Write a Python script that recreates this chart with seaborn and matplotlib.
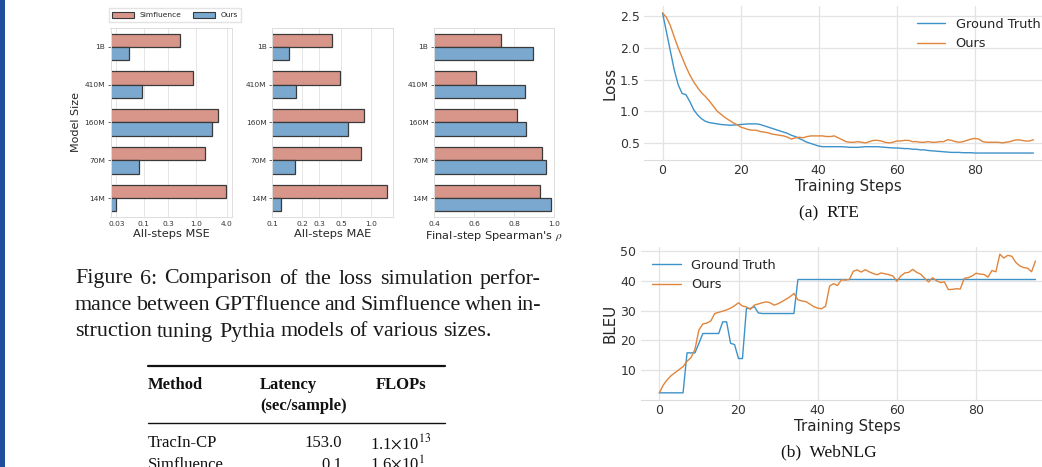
""" Recreation of a paper page crop: GPTfluence vs Simfluence bars + loss/BLEU curves """

import matplotlib
matplotlib.use("Agg")
import matplotlib.pyplot as plt
import pandas as pd
import seaborn as sns
from matplotlib.patches import Patch, Rectangle
from matplotlib.ticker import NullLocator


# ---- data ---------------------------------------------------------------

sizes = ["1B", "410M", "160M", "70M", "14M"]
methods = ["Simfluence", "Ours"]

mse_sim = [0.50, 0.88, 2.68, 1.54, 3.75]
mse_ours = [0.053, 0.091, 2.10, 0.083, 0.030]
mae_sim = [0.40, 0.49, 0.84, 0.79, 1.45]
mae_ours = [0.149, 0.174, 0.59, 0.171, 0.122]
rho_sim = [0.737, 0.61, 0.814, 0.942, 0.929]
rho_ours = [0.896, 0.857, 0.86, 0.962, 0.983]

steps = list(range(96))

rte_truth = [
    2.55, 2.25, 1.95, 1.65, 1.42, 1.28, 1.26, 1.15, 1.02, 0.94,
    0.88, 0.84, 0.82, 0.81, 0.80, 0.79, 0.785, 0.78, 0.78, 0.785,
    0.79, 0.795, 0.80, 0.80, 0.80, 0.79, 0.77, 0.75, 0.73, 0.71,
    0.69, 0.67, 0.65, 0.62, 0.60, 0.57, 0.54, 0.51, 0.49, 0.47,
    0.45, 0.44, 0.44, 0.44, 0.44, 0.44, 0.44, 0.435, 0.43, 0.43,
    0.43, 0.435, 0.44, 0.44, 0.44, 0.44, 0.435, 0.43, 0.425, 0.42,
    0.42, 0.415, 0.41, 0.41, 0.40, 0.40, 0.39, 0.39, 0.38, 0.375,
    0.37, 0.365, 0.36, 0.355, 0.35, 0.35, 0.35, 0.345, 0.345, 0.345,
    0.34, 0.34, 0.34, 0.34, 0.34, 0.34, 0.34, 0.34, 0.34, 0.34,
    0.34, 0.34, 0.34, 0.34, 0.34, 0.34,
]
rte_ours = [
    2.55, 2.48, 2.35, 2.17, 2.00, 1.85, 1.70, 1.57, 1.46, 1.37,
    1.29, 1.23, 1.16, 1.08, 1.00, 0.95, 0.90, 0.86, 0.82, 0.79,
    0.75, 0.73, 0.71, 0.70, 0.70, 0.68, 0.67, 0.66, 0.64, 0.63,
    0.62, 0.61, 0.59, 0.56, 0.58, 0.59, 0.58, 0.60, 0.61, 0.61,
    0.61, 0.61, 0.60, 0.60, 0.61, 0.58, 0.55, 0.52, 0.51, 0.51,
    0.52, 0.51, 0.50, 0.52, 0.54, 0.54, 0.53, 0.51, 0.50, 0.51,
    0.53, 0.53, 0.54, 0.54, 0.52, 0.52, 0.51, 0.51, 0.52, 0.51,
    0.51, 0.52, 0.52, 0.55, 0.54, 0.52, 0.51, 0.52, 0.54, 0.56,
    0.57, 0.56, 0.52, 0.51, 0.51, 0.51, 0.51, 0.50, 0.51, 0.52,
    0.54, 0.55, 0.54, 0.53, 0.53, 0.55,
]

nlg_truth = [
    2.4, 2.4, 2.4, 2.4, 2.4, 2.4, 2.4, 15.8, 15.8, 15.8,
    19.0, 22.3, 22.3, 22.3, 22.3, 22.3, 26.2, 26.2, 19.0, 18.6,
    13.9, 13.9, 30.7, 30.7, 31.3, 29.2, 29.0, 29.0, 29.0, 29.0,
    29.0, 29.0, 29.0, 29.0, 29.0, 40.4, 40.4, 40.4, 40.4, 40.4,
] + [40.4] * 56
nlg_ours = [
    2.4, 5.0, 6.8, 8.2, 9.2, 10.2, 11.2, 13.0, 14.2, 17.0,
    23.5, 25.5, 25.8, 26.5, 29.0, 29.4, 29.8, 30.2, 30.8, 31.6,
    32.6, 31.5, 31.2, 30.4, 31.8, 32.2, 32.6, 32.9, 32.6, 31.8,
    32.3, 33.0, 33.8, 34.6, 35.7, 33.6, 33.2, 33.0, 32.2, 31.3,
    30.8, 30.6, 31.5, 38.2, 39.0, 38.4, 40.3, 40.2, 40.4, 43.2,
    43.6, 42.9, 43.7, 43.0, 42.4, 42.0, 42.6, 42.3, 42.0, 41.6,
    39.8, 41.6, 42.6, 42.8, 43.8, 42.8, 42.2, 40.8, 39.6, 41.0,
    40.0, 39.4, 39.6, 37.0, 37.1, 37.3, 37.2, 40.8, 41.0, 41.6,
    42.5, 42.2, 42.1, 41.2, 43.4, 43.0, 48.9, 47.6, 48.5, 48.2,
    46.2, 45.0, 44.4, 44.2, 43.0, 46.6,
]

caption_lines = [
    "Figure 6: Comparison of the loss simulation perfor-",
    "mance between GPTfluence and Simfluence when in-",
    "struction tuning Pythia models of various sizes.",
]


# ---- style --------------------------------------------------------------

W, H = 1042, 467
sim_color = "#d8958a"
ours_color = "#7aa8cf"
truth_line = "#3d92c9"
ours_line = "#e0853c"
serif = ["Liberation Serif", "DejaVu Serif"]

sns.set_style("whitegrid")
plt.rcParams["font.family"] = ["DejaVu Sans"]
plt.rcParams["mathtext.fontset"] = "stix"

fig = plt.figure(figsize=(W / 100, H / 100), dpi=100)
fig.patch.set_facecolor("white")


def box(x0, y0, x1, y1):
    """ pixel box (top-left origin) -> figure fraction rect """
    return [x0 / W, 1 - y1 / H, (x1 - x0) / W, (y1 - y0) / H]


# ---- bar panels ---------------------------------------------------------

panels = [
    ("All-steps MSE", mse_sim, mse_ours, (110.5, 28, 232, 217), True,
     (0.023, 5.0), [0.03, 0.1, 0.3, 1.0, 4.0]),
    ("All-steps MAE", mae_sim, mae_ours, (272.3, 28, 392.7, 217), True,
     (0.1, 1.66), [0.1, 0.2, 0.3, 0.5, 1.0]),
    ("Final-step Spearman's $\\rho$", rho_sim, rho_ours, (434, 28, 554, 217), False,
     (0.4, 1.0), [0.4, 0.6, 0.8, 1.0]),
]

for i, (label, sim, ours, rect, logx, lim, ticks) in enumerate(panels):
    ax = fig.add_axes(box(*rect))
    frame = pd.DataFrame({
        "size": sizes * 2,
        "value": sim + ours,
        "method": [methods[0]] * 5 + [methods[1]] * 5,
    })
    if logx:
        ax.set_xscale("log")
    sns.barplot(data=frame, x="value", y="size", hue="method", orient="h",
                order=sizes, hue_order=methods, saturation=1,
                palette=[sim_color, ours_color], width=0.7,
                edgecolor="#3a3a3a", linewidth=0.9, ax=ax, legend=False)
    ax.set_xlim(*lim)
    ax.set_xticks(ticks)
    ax.set_xticklabels([f"{t:.2f}" if t < 0.1 else f"{t:.1f}" for t in ticks])
    ax.xaxis.set_minor_locator(NullLocator())
    ax.tick_params(axis="both", labelsize=5.4, colors="#333333", pad=2)
    ax.tick_params(axis="x", length=0, pad=3)
    ax.tick_params(axis="y", left=True, length=2, width=0.6, color="#555555")
    ax.set_xlabel(label, fontsize=8.2, labelpad=1)
    ax.set_ylabel("Model Size" if i == 0 else "", fontsize=8, labelpad=2)
    ax.grid(axis="x", color="#e6e6e6", linewidth=0.7)
    for s in ax.spines.values():
        s.set_color("#dddddd")
        s.set_linewidth(0.7)

handles = [Patch(facecolor=sim_color, edgecolor="#3a3a3a", linewidth=0.8),
           Patch(facecolor=ours_color, edgecolor="#3a3a3a", linewidth=0.8)]
fig.legend(handles, methods, loc="center", ncol=2, fontsize=5.4,
           bbox_to_anchor=(175 / W, 1 - 15 / H), frameon=True,
           handlelength=2.9, handleheight=0.9, columnspacing=1.6,
           handletextpad=0.7, borderpad=0.45, edgecolor="#dddddd",
           fancybox=False)


# ---- line panels --------------------------------------------------------

def line_panel(rect, truth, ours, ylabel, ylim, yticks, legend_loc):
    ax = fig.add_axes(box(*rect))
    sns.lineplot(x=steps, y=truth, color=truth_line, linewidth=1.0,
                 label="Ground Truth", ax=ax)
    sns.lineplot(x=steps, y=ours, color=ours_line, linewidth=1.0,
                 label="Ours", ax=ax)
    ax.set_xlim(-4.75, 99.75)
    ax.set_ylim(*ylim)
    ax.set_xticks([0, 20, 40, 60, 80])
    ax.set_yticks(yticks)
    ax.tick_params(labelsize=9, colors="#333333", length=0, pad=3)
    ax.set_xlabel("Training Steps", fontsize=10.8, labelpad=1)
    ax.set_ylabel(ylabel, fontsize=10.8, labelpad=2)
    ax.grid(color="#e3e3e3", linewidth=0.9)
    for side in ["top", "right", "left"]:
        ax.spines[side].set_visible(False)
    ax.spines["bottom"].set_color("#dddddd")
    ax.legend(loc=legend_loc, frameon=False, fontsize=9.3, handlelength=2.2)
    return ax


line_panel((644, 6, 1052, 160), rte_truth, rte_ours, "Loss",
           (0.23, 2.66), [0.5, 1.0, 1.5, 2.0, 2.5], "upper right")
line_panel((640.5, 247, 1054.3, 400), nlg_truth, nlg_ours, "BLEU",
           (0.0, 51.3), [10, 20, 30, 40, 50], "upper left")

fig.text(829 / W, 1 - 213 / H, "(a)  RTE", family=serif, fontsize=12.5,
         ha="center", va="center", color="#111111")
fig.text(829 / W, 1 - 452 / H, "(b)  WebNLG", family=serif, fontsize=12.5,
         ha="center", va="center", color="#111111")


# ---- caption (justified like the paper) ---------------------------------

renderer = fig.canvas.get_renderer()
cap_kw = dict(family=serif, fontsize=15.8, color="#1a1a1a")

probe = fig.text(0, 0, "a a", **cap_kw)
probe_a = fig.text(0, 0, "aa", **cap_kw)
natural_gap = (probe.get_window_extent(renderer).width
               - probe_a.get_window_extent(renderer).width)
probe.remove()
probe_a.remove()


def justified(line, x0, x1, y, last=False):
    words = line.split()
    arts = [fig.text(0, 1 - y / H, w, va="center", **cap_kw) for w in words]
    widths = [a.get_window_extent(renderer).width for a in arts]
    gap = natural_gap if last else (x1 - x0 - sum(widths)) / (len(words) - 1)
    x = x0
    for a, w in zip(arts, widths):
        a.set_x(x / W)
        x += w + gap


for k, (line, y) in enumerate(zip(caption_lines, [279, 306, 332])):
    justified(line, 75, 541, y, last=(k == 2))


# ---- table --------------------------------------------------------------

tab_kw = dict(family=serif, fontsize=12, color="#111111", va="center")
fig.add_artist(plt.Line2D([148 / W, 445 / W], [1 - 366 / H] * 2,
                          color="#111111", linewidth=1.6))
fig.add_artist(plt.Line2D([148 / W, 445 / W], [1 - 423 / H] * 2,
                          color="#111111", linewidth=1.0))
fig.text(148 / W, 1 - 385 / H, "Method", weight="bold", **tab_kw)
fig.text(260 / W, 1 - 385 / H, "Latency", weight="bold", **tab_kw)
fig.text(260 / W, 1 - 406 / H, "(sec/sample)", weight="bold", **tab_kw)
fig.text(376 / W, 1 - 385 / H, "FLOPs", weight="bold", **tab_kw)
fig.text(148 / W, 1 - 443 / H, "TracIn-CP", **tab_kw)
fig.text(342 / W, 1 - 443 / H, "153.0", ha="right", **tab_kw)
fig.text(370 / W, 1 - 443 / H, "1.1$\\times$10$^{13}$", **tab_kw)
fig.text(148 / W, 1 - 465 / H, "Simfluence", **tab_kw)
fig.text(342 / W, 1 - 465 / H, "0.1", ha="right", **tab_kw)
fig.text(370 / W, 1 - 465 / H, "1.6$\\times$10$^{1}$", **tab_kw)

# blue margin bar on the left edge
fig.patches.append(Rectangle((0, 0), 5 / W, 1, transform=fig.transFigure,
                             facecolor="#1f4f9c", edgecolor="none"))

fig.savefig("out.png", dpi=100, facecolor="white")
